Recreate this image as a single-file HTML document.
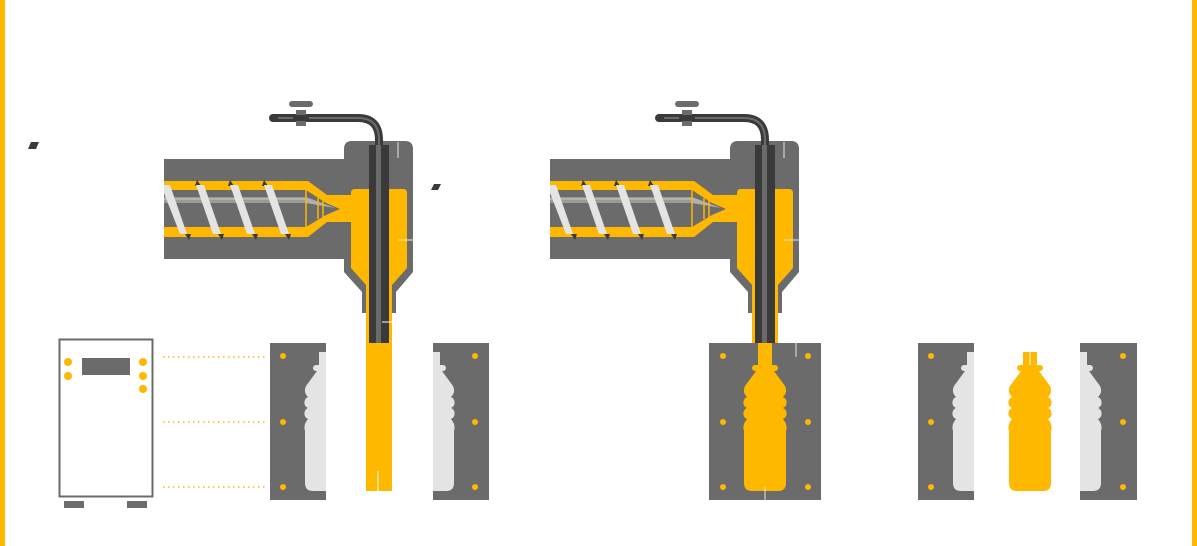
<!DOCTYPE html>
<html><head><meta charset="utf-8"><style>
html,body{margin:0;padding:0;background:#fff;}
svg{display:block;}
</style></head><body>
<svg width="1197" height="546" viewBox="0 0 1197 546" xmlns="http://www.w3.org/2000/svg">
<defs>
<path id="bottle" d="M-7,352 H7 V365 H10 A3,3 0 0 1 10,371 H9 L20,386 Q23,392 18,397 A6,6 0 0 1 18,408 A6,6 0 0 1 18,419 Q23,425 21,431 V483 Q21,491 13,491 H-13 Q-21,491 -21,483 V431 Q-23,425 -18,419 A6,6 0 0 1 -18,408 A6,6 0 0 1 -18,397 Q-23,392 -20,386 L-9,371 H-10 A3,3 0 0 1 -10,365 H-7 Z"/>
<g id="machine">
  <rect x="164" y="159" width="185" height="100" fill="#6b6b6b"/>
  <path d="M352,141 H405 Q413,141 413,149 V272 L396,292 V313 H362 V292 L344,272 V149 Q344,141 352,141 Z" fill="#6b6b6b"/>
  <path d="M164,181 H308 L327,195 H352 V222 H327 L308,237 H164 Z" fill="#ffb800"/>
  <path d="M164,190 H306 V227 H164 Z" fill="#6b6b6b"/>
  <path d="M306,190 L326,203 L340,209 L326,215 L306,227 Z" fill="#6b6b6b"/>
  <rect x="164" y="197" width="142" height="6" fill="#9a9a9a"/>
  <line x1="164" y1="199" x2="306" y2="199" stroke="#d8c9a0" stroke-width="1"/>
  <path d="M306,197 L335,208 L306,203 Z" fill="#b0b0b0"/>
  <line x1="318" y1="198" x2="318" y2="219" stroke="#ffb800" stroke-width="1.5"/>
  <line x1="323" y1="200" x2="323" y2="217" stroke="#ffb800" stroke-width="1.5"/>
  <line x1="306" y1="190" x2="306" y2="227" stroke="#ffb800" stroke-width="1.5"/>
  <g fill="#3a3a3a">
    <path d="M195,186 L201,186 L197,180 Z"/><path d="M228,186 L234,186 L230,180 Z"/><path d="M262,186 L268,186 L264,180 Z"/>
    <path d="M185,234 L191,234 L189,240 Z"/><path d="M218,234 L224,234 L222,240 Z"/><path d="M252,234 L258,234 L256,240 Z"/><path d="M285,234 L291,234 L289,240 Z"/>
  </g>
  <g fill="#e4e4e4">
    <path d="M164,185 L170,185 L187,234 L180,234 L164,193 Z"/>
    <path d="M196,185 L204,185 L221,234 L213,234 Z"/>
    <path d="M230,185 L238,185 L255,234 L247,234 Z"/>
    <path d="M264,185 L272,185 L289,234 L281,234 Z"/>
  </g>
  <path d="M355,189 H403 Q407,189 407,193 V268 L392,285 H366 L351,268 V193 Q351,189 355,189 Z" fill="#ffb800"/>
  <path d="M273,118 H358 Q379,118 379,140 V343" fill="none" stroke="#3a3a3a" stroke-width="8" stroke-linecap="round"/>
  <path d="M278,118 H358 Q379,118 379,140 V343" fill="none" stroke="#6b6b6b" stroke-width="2"/>
  <rect x="369" y="145" width="20" height="198" fill="#3a3a3a"/>
  <rect x="376" y="145" width="5" height="198" fill="#6b6b6b"/>
  <rect x="289" y="101" width="24" height="6" rx="3" fill="#6b6b6b"/>
  <rect x="296" y="110" width="10" height="16" fill="#6b6b6b"/>
  <rect x="293" y="115" width="16" height="6" fill="#3a3a3a"/>
  <line x1="398" y1="142" x2="398" y2="158" stroke="#e4e4e4" stroke-width="1"/>
  <line x1="398" y1="240" x2="413" y2="240" stroke="#e4e4e4" stroke-width="1"/>
</g>
<clipPath id="cl1"><rect x="270" y="343" width="56" height="157"/></clipPath>
<clipPath id="cr1"><rect x="433" y="343" width="56" height="157"/></clipPath>
<clipPath id="cl2"><rect x="918" y="343" width="56" height="157"/></clipPath>
<clipPath id="cr2"><rect x="1080" y="343" width="57" height="157"/></clipPath>
</defs>

<rect x="0" y="0" width="5" height="546" fill="#ffb800"/>
<rect x="1192" y="0" width="5" height="546" fill="#ffb800"/>

<path d="M31,142 H39 L36,149 H28 Z" fill="#3a3a3a"/>
<path d="M434,184 H441 L438,190 H431 Z" fill="#3a3a3a"/>

<rect x="59.5" y="339.5" width="93" height="157" fill="#fff" stroke="#6b6b6b" stroke-width="2"/>
<rect x="82" y="358" width="48" height="17" fill="#6b6b6b"/>
<g fill="#ffb800"><circle cx="68" cy="362" r="4"/><circle cx="68" cy="376" r="4"/><circle cx="143" cy="362" r="4"/><circle cx="143" cy="376" r="4"/><circle cx="143" cy="389" r="4"/></g>
<rect x="64" y="501" width="20" height="7" fill="#6b6b6b"/>
<rect x="127" y="501" width="20" height="7" fill="#6b6b6b"/>
<g stroke="#ffb800" stroke-width="1.5" stroke-dasharray="1.5 3.5"><line x1="163" y1="357" x2="265" y2="357"/><line x1="163" y1="422" x2="265" y2="422"/><line x1="163" y1="487" x2="265" y2="487"/></g>

<use href="#machine"/>
<rect x="366" y="285" width="26" height="206" fill="#ffb800"/>
<rect x="369" y="285" width="20" height="58" fill="#3a3a3a"/>
<rect x="376" y="285" width="5" height="58" fill="#6b6b6b"/>
<line x1="382" y1="322" x2="392" y2="322" stroke="#fff" stroke-width="1"/>
<line x1="378" y1="471" x2="378" y2="491" stroke="#fff" stroke-width="1"/>

<rect x="270" y="343" width="56" height="157" fill="#6b6b6b"/>
<rect x="433" y="343" width="56" height="157" fill="#6b6b6b"/>
<g clip-path="url(#cl1)"><use href="#bottle" transform="translate(326,0)" fill="#e4e4e4"/></g>
<g clip-path="url(#cr1)"><use href="#bottle" transform="translate(433,0)" fill="#e4e4e4"/></g>
<g fill="#ffb800"><circle cx="283" cy="356" r="3"/><circle cx="283" cy="422" r="3"/><circle cx="283" cy="487" r="3"/><circle cx="475" cy="356" r="3"/><circle cx="475" cy="422" r="3"/><circle cx="475" cy="487" r="3"/></g>

<use href="#machine" transform="translate(386,0)"/>
<rect x="752" y="285" width="26" height="58" fill="#ffb800"/>
<rect x="755" y="285" width="20" height="58" fill="#3a3a3a"/>
<rect x="762" y="285" width="5" height="58" fill="#6b6b6b"/>
<rect x="709" y="343" width="112" height="157" fill="#6b6b6b"/>
<rect x="758" y="343" width="14" height="12" fill="#ffb800"/>
<use href="#bottle" transform="translate(765,0)" fill="#ffb800"/>
<g fill="#ffb800"><circle cx="723" cy="356" r="3"/><circle cx="723" cy="422" r="3"/><circle cx="723" cy="487" r="3"/><circle cx="808" cy="356" r="3"/><circle cx="808" cy="422" r="3"/><circle cx="808" cy="487" r="3"/></g>
<line x1="765" y1="487" x2="765" y2="500" stroke="#e4e4e4" stroke-width="1"/>
<line x1="796" y1="343" x2="796" y2="357" stroke="#e4e4e4" stroke-width="1"/>

<rect x="918" y="343" width="56" height="157" fill="#6b6b6b"/>
<rect x="1080" y="343" width="57" height="157" fill="#6b6b6b"/>
<g clip-path="url(#cl2)"><use href="#bottle" transform="translate(974,0)" fill="#e4e4e4"/></g>
<g clip-path="url(#cr2)"><use href="#bottle" transform="translate(1080,0)" fill="#e4e4e4"/></g>
<use href="#bottle" transform="translate(1030,0)" fill="#ffb800"/>
<line x1="1030" y1="352" x2="1030" y2="365" stroke="#fff" stroke-width="1"/>
<g fill="#ffb800"><circle cx="931" cy="356" r="3"/><circle cx="931" cy="422" r="3"/><circle cx="931" cy="487" r="3"/><circle cx="1123" cy="356" r="3"/><circle cx="1123" cy="422" r="3"/><circle cx="1123" cy="487" r="3"/></g>
</svg>
</body></html>
